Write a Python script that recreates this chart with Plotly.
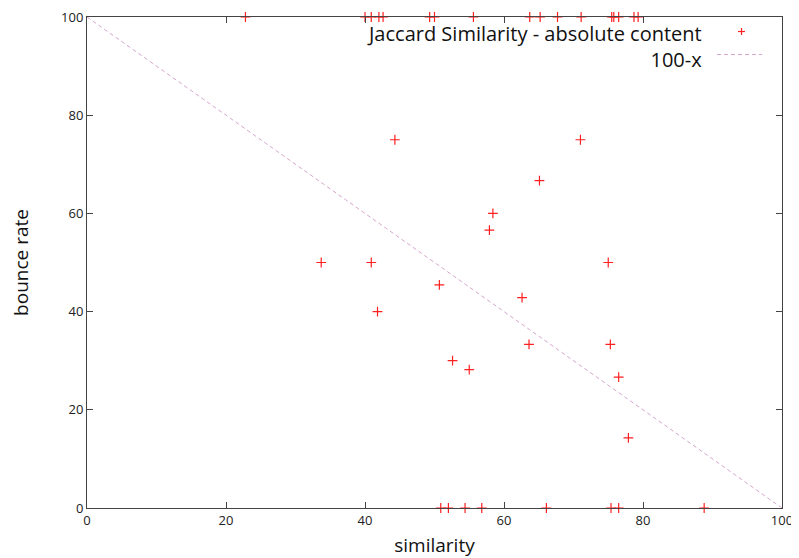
import plotly.graph_objects as go

# Jaccard similarity points (similarity, bounce rate)
similarity = [22.8, 40.0, 40.9, 42.0, 42.6, 49.3, 50.0, 55.6, 63.7, 65.2, 67.7, 71.1, 75.5, 75.8, 76.5, 78.7, 79.3,
              50.9, 52.0, 54.4, 56.8, 66.1, 75.4, 76.5, 88.8,
              44.3, 71.0, 65.1, 58.4, 57.9, 33.7, 40.9, 75.0, 50.7, 62.6, 41.8, 63.6, 75.3, 52.6, 55.0, 76.5, 77.9]
bounce_rate = [100]*17 + [0]*8 + \
              [75.0, 75.0, 66.67, 60.0, 56.6, 50.0, 50.0, 50.0, 45.45, 42.86, 40.0, 33.33, 33.33, 30.0, 28.2, 26.67, 14.29]

line_x = [0, 100]
line_y = [100 - v for v in line_x]

x_ticks = [0, 20, 40, 60, 80, 100]
y_ticks = [0, 20, 40, 60, 80, 100]

legend_labels = ["Jaccard Similarity - absolute content", "100-x"]

FONT = "Open Sans"
RED = "#ff2020"
PINK = "#d6a6cc"

OFF = 8  # default page body margin
L, R, T, B = 86.5, 782, 17, 508
W, H = R - L, B - T

def px(x):
    return (x - L) / W

def py(y):
    return (B - y) / H

fig = go.Figure()
fig.add_trace(go.Scatter(x=line_x, y=line_y, mode="lines",
                         line=dict(color=PINK, width=1, dash="4px,3px"),
                         showlegend=False, hoverinfo="skip"))
fig.add_trace(go.Scatter(x=similarity, y=bounce_rate, mode="markers",
                         marker=dict(symbol="cross-thin", size=7, line=dict(color=RED, width=1.2), color=RED),
                         cliponaxis=False, showlegend=False))

axis_common = dict(showgrid=False, zeroline=False, showline=True, linecolor="#444444", linewidth=1,
                   mirror="ticks", ticks="inside", ticklen=6, tickcolor="#444444", automargin=False,
                   ticklabeloverflow="allow",
                   tickfont=dict(family=FONT, size=13, color="#222222"))

fig.update_xaxes(range=[0, 100], tickvals=x_ticks, ticktext=[str(v) for v in x_ticks],
                 title=dict(text="similarity", font=dict(family=FONT, size=19, color="#111111"), standoff=12),
                 **axis_common)
fig.update_yaxes(range=[0, 100], tickvals=y_ticks, ticktext=[str(v) for v in y_ticks],
                 title=dict(text="bounce rate", font=dict(family=FONT, size=19, color="#111111"), standoff=36),
                 **axis_common)

# gnuplot-style legend (text right-aligned, sample at the right)
fig.add_annotation(xref="paper", yref="paper", x=px(704), y=py(46), text="<br>".join(legend_labels),
                   showarrow=False, xanchor="right", yanchor="middle", align="right",
                   font=dict(family=FONT, size=20, color="#111111"))
cx, cy = 741.5, 31.5
fig.add_shape(type="line", xref="paper", yref="paper",
              x0=px(cx - 3.5), x1=px(cx + 3.5), y0=py(cy), y1=py(cy),
              line=dict(color=RED, width=1.2))
fig.add_shape(type="line", xref="paper", yref="paper",
              x0=px(cx), x1=px(cx), y0=py(cy - 3.5), y1=py(cy + 3.5),
              line=dict(color=RED, width=1.2))
fig.add_shape(type="line", xref="paper", yref="paper",
              x0=px(717), x1=px(762), y0=py(54.5), y1=py(54.5),
              line=dict(color=PINK, width=1, dash="4px,3px"))

fig.update_layout(width=799 - OFF, height=558 - OFF,
                  margin=dict(l=L - OFF, r=799 - R, t=T - OFF, b=558 - B),
                  plot_bgcolor="white", paper_bgcolor="white", showlegend=False,
                  font=dict(family=FONT))

fig.write_html("out.html")
